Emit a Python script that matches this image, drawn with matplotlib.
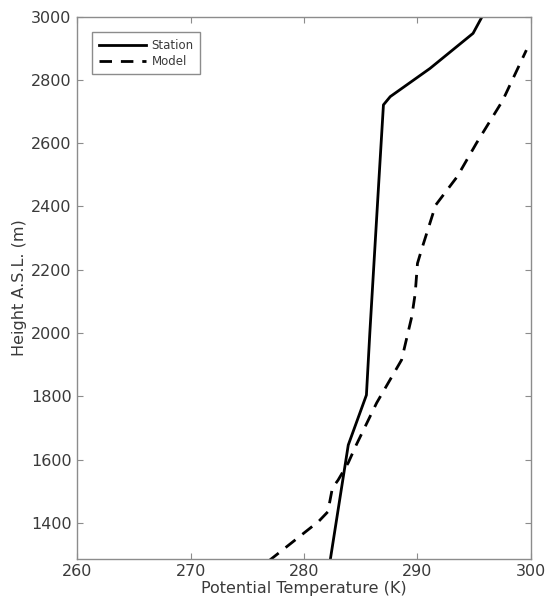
import matplotlib
matplotlib.use("Agg")
import matplotlib.pyplot as plt

plt.rcParams.update({
    "font.family": "DejaVu Sans",
    "font.size": 11.5,
})
TXT = "#3a3a3a"
EDGE = "#8c8c8c"

# station profile (potential temperature K, height m)
station_theta = [282.3, 283.9, 285.5, 285.8, 286.6, 287.0, 287.6, 291.1, 294.9, 295.7, 296.0]
station_z = [1280, 1646, 1804, 2000, 2483, 2721, 2747, 2836, 2947, 3000, 3020]

# model profile
model_theta = [276.9, 281.3, 282.1, 282.5, 283.0, 283.9, 284.6, 286.4, 288.6, 289.5,
               289.8, 290.0, 290.4, 291.6, 293.5, 295.2, 297.5, 299.6]
model_z = [1280, 1405, 1435, 1510, 1535, 1590, 1646, 1779, 1915, 2052,
           2125, 2220, 2268, 2404, 2494, 2600, 2734, 2894]

x_ticks = [260, 270, 280, 290, 300]
y_ticks = [1400, 1600, 1800, 2000, 2200, 2400, 2600, 2800, 3000]

fig = plt.figure(figsize=(5.47, 6.07), dpi=100)
ax = fig.add_axes([0.141, 0.0797, 0.8296, 0.893])

ax.plot(station_theta, station_z, color="black", lw=2.0, label="Station")
ax.plot(model_theta, model_z, color="black", lw=2.0, ls=(0, (4.5, 3.2)), label="Model")

ax.set_xlim(260, 300)
ax.set_ylim(1287, 3000)
ax.set_xticks(x_ticks)
ax.set_yticks(y_ticks)
ax.tick_params(direction="in", length=4, width=0.8, color=EDGE, labelcolor=TXT,
               top=True, right=True, labelsize=11.5, pad=4)
for s in ax.spines.values():
    s.set_color(EDGE)
    s.set_linewidth(1.0)

ax.set_xlabel("Potential Temperature (K)", color=TXT, labelpad=1)
ax.set_ylabel("Height A.S.L. (m)", color=TXT, labelpad=3)

leg = ax.legend(loc="upper left", bbox_to_anchor=(0.033, 0.971), borderaxespad=0,
                fontsize=8.5, fancybox=False, framealpha=1, edgecolor=EDGE,
                handlelength=4.0, borderpad=0.55, labelspacing=0.25, handletextpad=0.5)
leg.get_frame().set_linewidth(1.0)
for t in leg.get_texts():
    t.set_color(TXT)

fig.savefig("out.png", dpi=100)
